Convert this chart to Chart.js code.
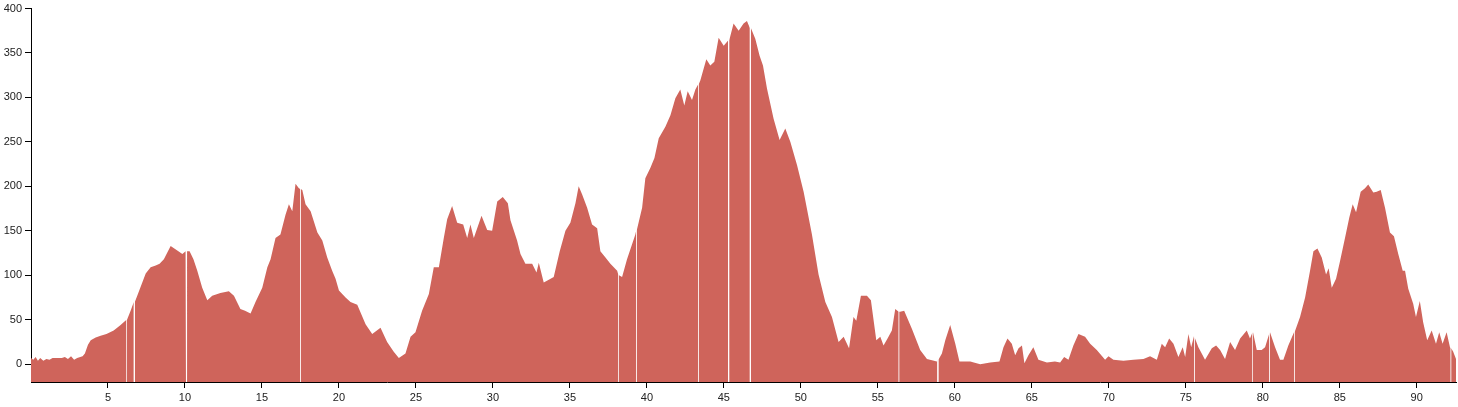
<!DOCTYPE html>
<html>
<head>
<meta charset="utf-8">
<script src="https://cdn.jsdelivr.net/npm/chart.js@4/dist/chart.umd.min.js"></script>
<style>
html,body{margin:0;padding:0;background:#fff;}
#wrap{width:1458px;height:407px;position:relative;}
</style>
</head>
<body>
<div id="wrap"><canvas id="c" width="1458" height="407"></canvas></div>
<script>
const dist = [0.0,0.15,0.3,0.45,0.6,0.8,1.0,1.2,1.4,1.7,2.0,2.2,2.4,2.6,2.8,3.0,3.2,3.35,3.5,3.7,
3.88,4.2,4.52,4.9,5.37,5.82,6.2,6.47,6.9,7.45,7.77,8.1,8.35,8.63,9.07,9.5,9.83,10.04,10.3,10.55,
10.8,11.12,11.45,11.77,12.3,12.85,13.18,13.6,13.9,14.26,14.58,15.02,15.35,15.56,15.88,16.2,16.53,16.75,16.97,17.18,
17.4,17.62,17.83,18.16,18.6,18.92,19.24,19.56,19.78,20.0,20.43,20.75,21.19,21.73,22.16,22.7,23.13,23.56,23.89,24.32,
24.65,24.97,25.4,25.84,26.16,26.49,26.81,27.03,27.35,27.68,28.07,28.33,28.54,28.76,29.26,29.63,29.95,30.28,30.64,30.97,
31.14,31.57,31.79,32.11,32.55,32.83,32.98,33.3,33.63,33.95,34.34,34.71,35.03,35.36,35.57,35.79,36.12,36.44,36.77,36.98,
37.31,37.63,38.07,38.39,38.71,39.25,39.69,39.9,40.23,40.49,40.77,41.2,41.53,41.85,42.17,42.43,42.65,42.93,43.15,43.47,
43.86,44.12,44.38,44.66,44.99,45.31,45.63,45.96,46.28,46.5,46.76,47.04,47.32,47.54,47.8,48.23,48.62,48.99,49.32,49.75,
50.18,50.72,51.15,51.59,52.02,52.45,52.78,53.13,53.42,53.6,53.9,54.29,54.55,54.9,55.16,55.37,55.63,55.91,56.13,56.45,
56.71,57.21,57.75,58.19,58.84,59.16,59.38,59.7,60.03,60.3,61.0,61.65,62.3,62.9,63.16,63.42,63.7,63.92,64.14,64.36,
64.52,64.78,65.1,65.43,65.98,66.5,66.84,67.1,67.38,67.7,68.03,68.46,68.79,69.22,69.76,69.98,70.3,70.95,71.6,72.25,
72.68,73.12,73.44,73.66,73.92,74.2,74.52,74.8,74.96,75.17,75.35,75.54,75.82,76.25,76.69,76.97,77.23,77.55,77.88,78.2,
78.53,78.96,79.17,79.35,79.61,79.93,80.15,80.47,80.8,81.12,81.34,81.66,82.03,82.42,82.75,83.07,83.29,83.55,83.83,84.11,
84.28,84.48,84.76,85.02,85.34,85.62,85.84,86.06,86.36,86.64,86.85,87.18,87.4,87.66,87.94,88.26,88.52,88.8,89.09,89.24,
89.45,89.77,89.95,90.2,90.42,90.68,90.97,91.25,91.46,91.68,91.94,92.16,92.37,92.55];

const elev = [7,5,8,4,7,4,6,5,7,7,7,8,6,9,5,7,8,9,12,22,
27,30,32,34,38,44,50,60,77,102,109,111,113,118,133,128,124,127,127,118,
105,86,72,77,80,82,77,62,60,57,70,86,109,118,142,146,168,180,172,203,
198,196,180,172,148,139,120,105,96,83,75,70,67,45,34,41,25,14,7,12,
31,36,60,79,109,109,142,163,178,159,157,142,157,142,167,151,150,183,188,181,
162,139,124,113,113,103,114,92,95,98,127,150,159,181,200,191,176,157,153,127,
120,113,105,98,118,146,176,209,221,232,254,267,280,299,309,291,307,297,309,319,
343,336,340,367,358,364,383,375,383,386,378,366,347,336,310,276,252,265,250,224,
194,146,101,70,53,25,31,18,53,49,77,77,72,27,31,21,29,38,62,59,
60,40,16,6,3,12,27,44,23,3,3,0,2,3,19,29,23,10,18,21,
1,10,19,5,2,3,2,8,5,21,34,31,23,16,5,9,5,4,5,6,
9,5,23,19,29,23,8,19,8,34,19,32,19,5,18,21,16,6,25,16,
29,38,29,36,16,16,19,36,19,5,5,21,36,53,75,105,127,130,120,101,
108,86,96,116,142,165,180,171,194,198,202,193,194,196,176,148,144,124,105,105,
85,68,53,71,47,27,38,23,36,23,36,19,14,6];

// breaks in the track (distance, elevation read at the break)
const gapDist = [6.22,6.71,10.1,17.5,38.17,39.32,43.36,45.31,46.72,56.37,58.9,75.56,79.35,80.43,82.05,92.22];
const gapElev = [50,70,127,197,100,150,315,364,378,59,5,30,36,34,36,18];
// breaks that show as a clearly white seam
const wideGaps = [6.71,10.1,45.31,46.72,58.9];

const xTicks = [5,10,15,20,25,30,35,40,45,50,55,60,65,70,75,80,85,90];
const yTicks = [0,50,100,150,200,250,300,350,400];

// split the profile into track pieces at each break (kept sorted by distance)
const pieces = [];
let cur = [];
let g = 0;
let lastGapEnd = -Infinity;
const halfOf = v => wideGaps.includes(v) ? 0.034 : 0.016;
dist.forEach((d, i) => {
  while (g < gapDist.length && gapDist[g] - halfOf(gapDist[g]) <= d) {
    const h = halfOf(gapDist[g]);
    const lo = gapDist[g] - h, hi = gapDist[g] + h;
    while (cur.length && cur[cur.length - 1].x >= lo) cur.pop();
    cur.push({x: lo, y: gapElev[g]});
    pieces.push(cur);
    cur = [{x: hi, y: gapElev[g]}];
    lastGapEnd = hi;
    g++;
  }
  if (d > lastGapEnd) cur.push({x: d, y: elev[i]});
});
pieces.push(cur);

const tickFont = {family: "'Liberation Sans', Arial, sans-serif", size: 11, lineHeight: 1};
const fillColor = 'rgb(207,100,91)';

new Chart(document.getElementById('c'), {
  type: 'line',
  data: {
    datasets: pieces.map(p => ({
      data: p,
      fill: 'start',
      backgroundColor: fillColor,
      borderColor: fillColor,
      borderWidth: 0,
      pointRadius: 0,
      tension: 0
    }))
  },
  options: {
    responsive: false,
    animation: false,
    layout: {padding: {top: 6, right: 2, left: 0, bottom: 0}},
    plugins: {legend: {display: false}, tooltip: {enabled: false}},
    scales: {
      x: {
        type: 'linear',
        min: 0,
        max: dist[dist.length - 1],
        afterBuildTicks: s => { s.ticks = xTicks.map(v => ({value: v})); },
        afterFit: s => { s.height = 25; },
        grid: {drawOnChartArea: false, drawTicks: true, tickLength: 6, color: '#000', tickColor: '#000'},
        border: {display: true, color: '#000', width: 1},
        ticks: {font: tickFont, color: '#222', padding: 4, maxRotation: 0, autoSkip: false}
      },
      y: {
        type: 'linear',
        min: -20,
        max: 400,
        afterBuildTicks: s => { s.ticks = yTicks.map(v => ({value: v})); },
        afterFit: s => { s.width = 31; },
        grid: {drawOnChartArea: false, drawTicks: true, tickLength: 6, color: '#000', tickColor: '#000'},
        border: {display: true, color: '#000', width: 1},
        ticks: {font: tickFont, color: '#222', padding: 3, autoSkip: false}
      }
    }
  }
});
</script>
</body>
</html>
